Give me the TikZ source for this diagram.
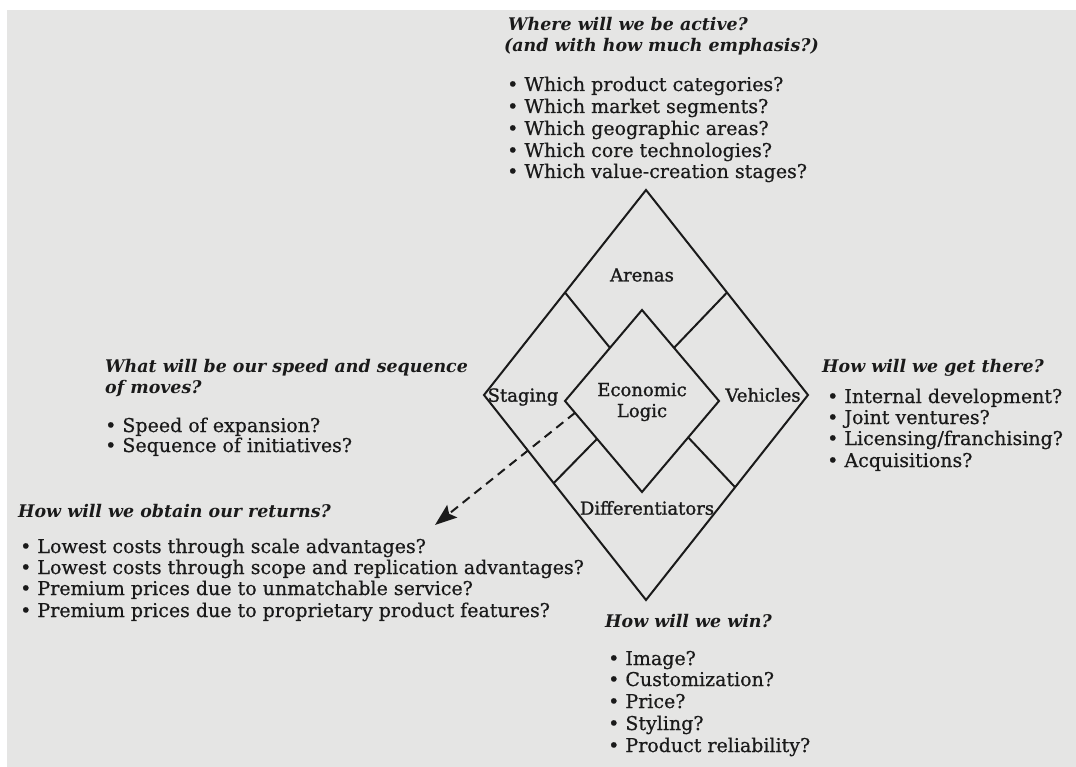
\documentclass[tikz,border=0pt]{standalone}
\usepackage{fontspec}
\setmainfont{DejaVu Serif}
\newfontfamily\bodyfont{DejaVu Serif}[FakeBold=0.6]
\newfontfamily\labelfont{DejaVu Serif}[FakeBold=1.2]
\usetikzlibrary{arrows.meta,calc}
\definecolor{paper}{RGB}{229,229,228}
\definecolor{ink}{RGB}{26,26,26}
\tikzset{
  body/.style={anchor=base west, inner sep=0pt, text=ink, font=\bodyfont\fontsize{19}{22}\selectfont},
  head/.style={anchor=base west, inner sep=0pt, text=ink, font=\fontsize{17.4}{21}\selectfont\bfseries\itshape},
  field/.style={inner sep=0pt, text=ink, align=center, font=\labelfont\fontsize{18}{21}\selectfont},
  frame/.style={draw=ink, line width=2pt, line join=miter},
  link/.style={draw=ink, line width=2pt},
  flow/.style={draw=ink, line width=2pt, dash pattern=on 9pt off 6pt, -{Stealth[length=22pt,width=16pt,inset=4pt]}},
}
\begin{document}
\begin{tikzpicture}[x=1pt,y=-1pt]
% page
\fill[white] (0,0) rectangle (1076,767);
\fill[paper] (7,10) rectangle (1076,767);
\useasboundingbox (0,0) rectangle (1076,767);

% outer diamond
\coordinate (OT) at (646,190);
\coordinate (OL) at (484,395);
\coordinate (OR) at (808,395);
\coordinate (OB) at (646,600);
% inner diamond
\coordinate (IT) at (642,310);
\coordinate (IL) at (565,401);
\coordinate (IR) at (719,401);
\coordinate (IB) at (642,492);

\draw[frame] (OT) -- (OR) -- (OB) -- (OL) -- cycle;
\draw[frame] (IT) -- (IR) -- (IB) -- (IL) -- cycle;

% partitions between the outer fields
\coordinate (ul1) at ($(OT)!0.5!(OL)$);
\coordinate (ul2) at ($(IL)!0.584!(IT)$);
\coordinate (ur1) at ($(OT)!0.5!(OR)$);
\coordinate (ur2) at ($(IR)!0.584!(IT)$);
\coordinate (ll1) at ($(OL)!0.43!(OB)$);
\coordinate (ll2) at ($(IL)!0.416!(IB)$);
\coordinate (lr1) at ($(OR)!0.45!(OB)$);
\coordinate (lr2) at ($(IR)!0.4!(IB)$);
\draw[link] (ul1) -- (ul2);
\draw[link] (ur1) -- (ur2);
\draw[link] (ll1) -- (ll2);
\draw[link] (lr1) -- (lr2);

% field labels
\node[field] (arenas) at (642,275) {Arenas};
\node[field] (staging) at (523,397) {Staging};
\node[field] (logic) at (642,402) {Economic\\Logic};
\node[field] (vehicles) at (763,395) {Vehicles};
\node[field] (diff) at (647,508) {Differentiators};

% arenas questions
\node[head] (q1) at (508,31) {Where will we be active?};
\node[head] (q1b) at (504,52) {(and with how much emphasis?)};
\node[body] (a1) at (507,91) {• Which product categories?};
\node[body] (a2) at (507,113) {• Which market segments?};
\node[body] (a3) at (507,135) {• Which geographic areas?};
\node[body] (a4) at (507,157) {• Which core technologies?};
\node[body] (a5) at (507,178) {• Which value-creation stages?};

% staging questions
\node[head] (q2) at (105,372) {What will be our speed and sequence};
\node[head] (q2b) at (105,393) {of moves?};
\node[body] (s1) at (105,432) {• Speed of expansion?};
\node[body] (s2) at (105,452) {• Sequence of initiatives?};

% vehicles questions
\node[head] (q3) at (822,372) {How will we get there?};
\node[body] (v1) at (827,403) {• Internal development?};
\node[body] (v2) at (827,424) {• Joint ventures?};
\node[body] (v3) at (827,445) {• Licensing/franchising?};
\node[body] (v4) at (827,467) {• Acquisitions?};

% economic logic questions
\node[head] (q4) at (18,517) {How will we obtain our returns?};
\node[body] (e1) at (20,553) {• Lowest costs through scale advantages?};
\node[body] (e2) at (20,574) {• Lowest costs through scope and replication advantages?};
\node[body] (e3) at (20,595) {• Premium prices due to unmatchable service?};
\node[body] (e4) at (20,617) {• Premium prices due to proprietary product features?};

% differentiator questions
\node[head] (q5) at (605,627) {How will we win?};
\node[body] (d1) at (608,665) {• Image?};
\node[body] (d2) at (608,686) {• Customization?};
\node[body] (d3) at (608,708) {• Price?};
\node[body] (d4) at (608,730) {• Styling?};
\node[body] (d5) at (608,752) {• Product reliability?};

% dashed pointer from the economic logic to its questions
\coordinate (from) at ($(IL)!0.13!(IB)$);
\coordinate (tip) at (435,525);
\draw[flow] (from) -- (tip);
\end{tikzpicture}
\end{document}
